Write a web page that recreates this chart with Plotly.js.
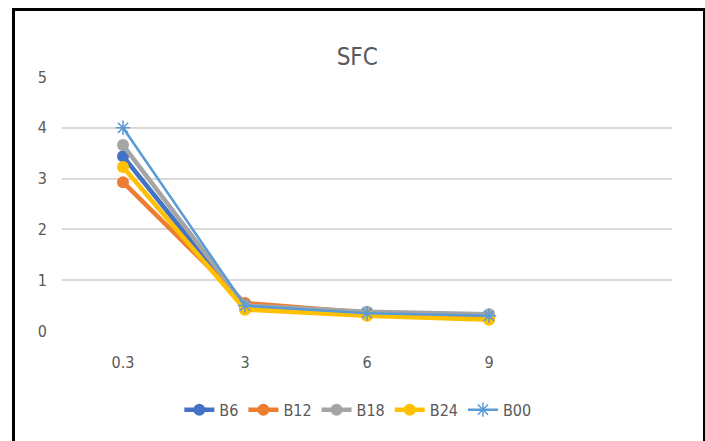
<!DOCTYPE html>
<html>
<head>
<meta charset="utf-8">
<script src="https://cdn.plot.ly/plotly-3.0.1.min.js"></script>
<style>
  html, body { margin: 0; padding: 0; background: #fff; }
  #chart { position: absolute; left: 0; top: 0; width: 705px; height: 441px; }
  #frame { position: absolute; left: 12px; top: 8px; width: 688px; height: 450px;
           border: 3px solid #000; border-bottom: none; pointer-events: none; }
</style>
</head>
<body>
<div id="chart"></div>
<div id="frame"></div>
<script>
const categories = ["0.3", "3", "6", "9"];
const seriesNames = ["B6", "B12", "B18", "B24", "B00"];
const B6  = [3.44, 0.45, 0.33, 0.30];
const B12 = [2.93, 0.55, 0.36, 0.27];
const B18 = [3.66, 0.50, 0.38, 0.33];
const B24 = [3.23, 0.42, 0.30, 0.22];
const B00 = [4.00, 0.50, 0.35, 0.30];
const yTicks = [0, 1, 2, 3, 4, 5];

const colors = ["#4472C4", "#ED7D31", "#A5A5A5", "#FFC000", "#5B9BD5"];
const values = [B6, B12, B18, B24, B00];
const font = "'DejaVu Sans Condensed', 'Liberation Sans Narrow', 'Liberation Sans', sans-serif";

const traces = values.map((v, i) => {
  const isStar = seriesNames[i] === "B00";
  return {
    x: categories, y: v, name: seriesNames[i], type: 'scatter', mode: 'lines+markers',
    line: { color: colors[i], width: isStar ? 2.5 : 4.5 },
    marker: isStar
      ? { symbol: 'asterisk-open', size: 12, color: colors[i], line: { color: colors[i], width: 1.5 } }
      : { symbol: 'circle', size: 12, color: colors[i] }
  };
});

const layout = {
  width: 705, height: 441,
  margin: { l: 62, r: 33, t: 77, b: 110 },
  paper_bgcolor: '#fff', plot_bgcolor: '#fff',
  title: { text: 'SFC', x: 0.484, xref: 'paper', y: 0.872, yref: 'container', xanchor: 'center', yanchor: 'middle',
           font: { family: font, size: 24, color: '#595959' } },
  xaxis: { type: 'category', range: [-0.5, 4.5], showgrid: false, zeroline: false, showline: false,
           ticks: '', tickfont: { family: font, size: 16, color: '#595959' }, ticklabelstandoff: 20 },
  yaxis: { range: [0, 5], tickvals: yTicks, showgrid: true, gridcolor: '#d9d9d9', gridwidth: 2,
           zeroline: false, showline: false, ticks: '', ticklabelstandoff: 14,
           tickfont: { family: font, size: 16, color: '#595959' } },
  legend: { orientation: 'h', x: 0.485, xanchor: 'center', y: -0.31, yanchor: 'middle',
            font: { family: font, size: 16, color: '#595959' }, itemwidth: 30, tracegroupgap: 0 },
  showlegend: true
};

Plotly.newPlot('chart', traces, layout, { displayModeBar: false, staticPlot: true });
</script>
</body>
</html>
